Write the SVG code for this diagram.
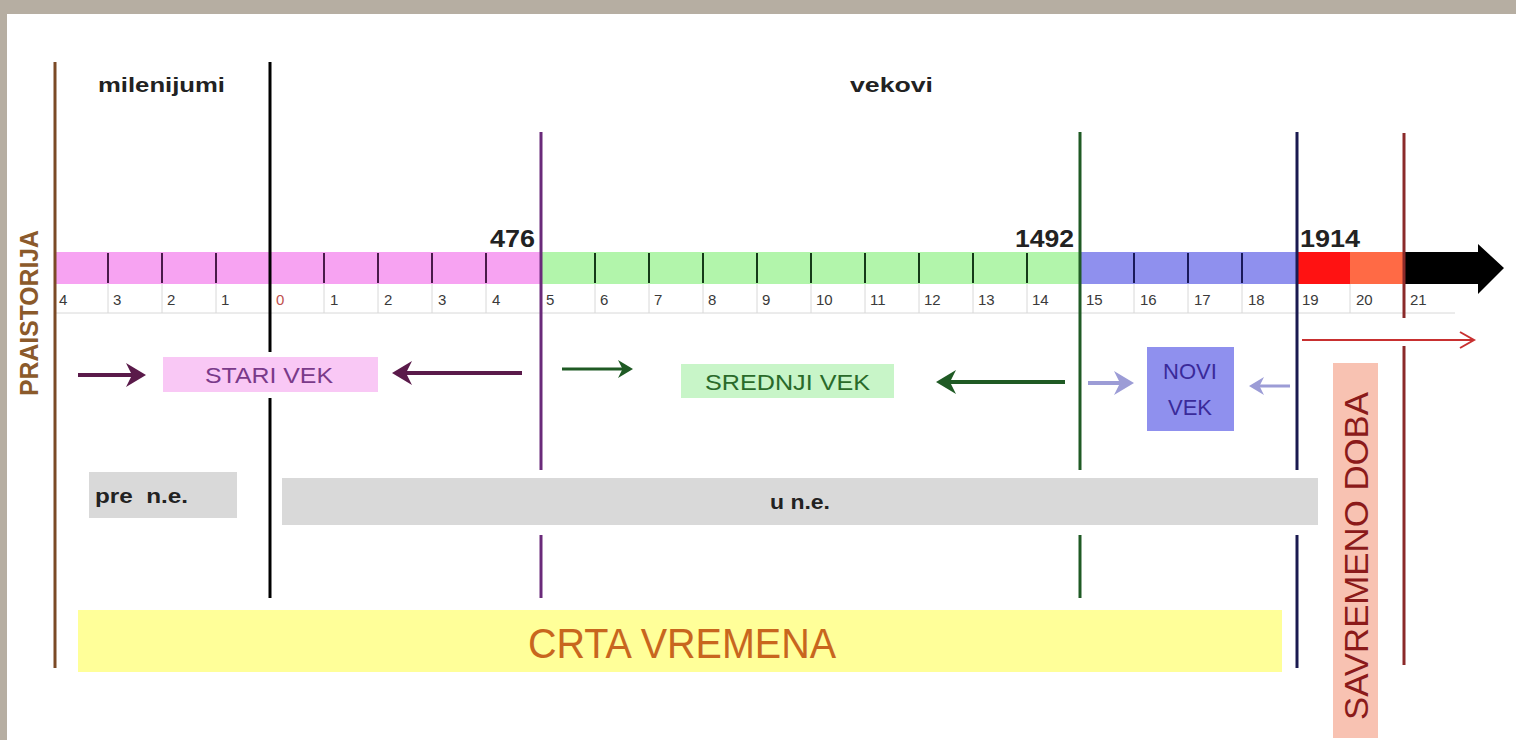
<svg xmlns="http://www.w3.org/2000/svg" width="1516" height="740" viewBox="0 0 1516 740">
<defs>
<style>
.num{font-family:"Liberation Sans",Arial,sans-serif;font-size:15px;fill:#3a3a3a}
.yr{font-family:"Liberation Sans",Arial,sans-serif;font-size:23px;font-weight:bold;fill:#222}
.hd{font-family:"Liberation Sans",Arial,sans-serif;font-size:21px;font-weight:bold;fill:#222}
.lbl{font-family:"Liberation Sans",Arial,sans-serif;font-size:22px}
.sep{stroke:#d8d8d8;stroke-width:1}
</style>
<marker id="ahP" markerWidth="6" markerHeight="6" refX="4" refY="3" orient="auto" markerUnits="strokeWidth"><path d="M0,0 L5,3 L0,6 L1.5,3 Z" fill="#5a1a4a"/></marker>
<marker id="ahG" markerWidth="6" markerHeight="6" refX="4" refY="3" orient="auto" markerUnits="strokeWidth"><path d="M0,0 L5,3 L0,6 L1.5,3 Z" fill="#1f5a24"/></marker>
<marker id="ahB" markerWidth="6" markerHeight="6" refX="4" refY="3" orient="auto" markerUnits="strokeWidth"><path d="M0,0 L5,3 L0,6 L1.5,3 Z" fill="#9c9cd6"/></marker>
</defs>
<rect width="1516" height="740" fill="#ffffff"/>
<rect x="0" y="0" width="1516" height="14" fill="#b6aea2"/>
<rect x="0" y="0" width="7" height="740" fill="#b6aea2"/>

<g id="headers">
<text class="hd" x="98" y="92" textLength="127" lengthAdjust="spacingAndGlyphs">milenijumi</text>
<text class="hd" x="850" y="92" textLength="83" lengthAdjust="spacingAndGlyphs">vekovi</text>
</g>

<g id="timeline-bar">
<rect x="55" y="252" width="486" height="32" fill="#f7a3f2"/>
<rect x="541" y="252" width="539" height="32" fill="#b2f5ab"/>
<rect x="1080" y="252" width="217" height="32" fill="#8f90ee"/>
<rect x="1297" y="252" width="53" height="32" fill="#ff1212"/>
<rect x="1350" y="252" width="54" height="32" fill="#ff6a45"/>
<path d="M1404,252 H1478 V244 L1504,268 L1478,294 V284 H1404 Z" fill="#000"/>
<g stroke="#4a1a4a" stroke-width="2">
<line x1="108" y1="253" x2="108" y2="283"/><line x1="162" y1="253" x2="162" y2="283"/><line x1="216" y1="253" x2="216" y2="283"/>
<line x1="324" y1="253" x2="324" y2="283"/><line x1="378" y1="253" x2="378" y2="283"/><line x1="432" y1="253" x2="432" y2="283"/><line x1="486" y1="253" x2="486" y2="283"/>
</g>
<g stroke="#153a18" stroke-width="2">
<line x1="595" y1="253" x2="595" y2="283"/><line x1="649" y1="253" x2="649" y2="283"/><line x1="703" y1="253" x2="703" y2="283"/><line x1="757" y1="253" x2="757" y2="283"/><line x1="811" y1="253" x2="811" y2="283"/><line x1="865" y1="253" x2="865" y2="283"/><line x1="919" y1="253" x2="919" y2="283"/><line x1="973" y1="253" x2="973" y2="283"/><line x1="1027" y1="253" x2="1027" y2="283"/>
</g>
<g stroke="#1a1a5a" stroke-width="2">
<line x1="1134" y1="253" x2="1134" y2="283"/><line x1="1188" y1="253" x2="1188" y2="283"/><line x1="1242" y1="253" x2="1242" y2="283"/>
</g>
<line x1="55" y1="313" x2="1455" y2="313" class="sep"/>
<g class="sep">
<line x1="108" y1="284" x2="108" y2="313"/><line x1="162" y1="284" x2="162" y2="313"/><line x1="216" y1="284" x2="216" y2="313"/><line x1="324" y1="284" x2="324" y2="313"/><line x1="378" y1="284" x2="378" y2="313"/><line x1="432" y1="284" x2="432" y2="313"/><line x1="486" y1="284" x2="486" y2="313"/>
<line x1="595" y1="284" x2="595" y2="313"/><line x1="649" y1="284" x2="649" y2="313"/><line x1="703" y1="284" x2="703" y2="313"/><line x1="757" y1="284" x2="757" y2="313"/><line x1="811" y1="284" x2="811" y2="313"/><line x1="865" y1="284" x2="865" y2="313"/><line x1="919" y1="284" x2="919" y2="313"/><line x1="973" y1="284" x2="973" y2="313"/><line x1="1027" y1="284" x2="1027" y2="313"/>
<line x1="1134" y1="284" x2="1134" y2="313"/><line x1="1188" y1="284" x2="1188" y2="313"/><line x1="1242" y1="284" x2="1242" y2="313"/><line x1="1350" y1="284" x2="1350" y2="313"/>
</g>
<text class="num" x="59" y="305">4</text>
<text class="num" x="113" y="305">3</text>
<text class="num" x="167" y="305">2</text>
<text class="num" x="221" y="305">1</text>
<text class="num" x="276" y="305" style="fill:#c0504d">0</text>
<text class="num" x="330" y="305">1</text>
<text class="num" x="384" y="305">2</text>
<text class="num" x="438" y="305">3</text>
<text class="num" x="492" y="305">4</text>
<text class="num" x="546" y="305">5</text>
<text class="num" x="600" y="305">6</text>
<text class="num" x="654" y="305">7</text>
<text class="num" x="708" y="305">8</text>
<text class="num" x="762" y="305">9</text>
<text class="num" x="816" y="305">10</text>
<text class="num" x="870" y="305">11</text>
<text class="num" x="924" y="305">12</text>
<text class="num" x="978" y="305">13</text>
<text class="num" x="1032" y="305">14</text>
<text class="num" x="1086" y="305">15</text>
<text class="num" x="1140" y="305">16</text>
<text class="num" x="1194" y="305">17</text>
<text class="num" x="1248" y="305">18</text>
<text class="num" x="1302" y="305">19</text>
<text class="num" x="1356" y="305">20</text>
<text class="num" x="1410" y="305">21</text>
<text class="yr" x="490" y="247" textLength="45" lengthAdjust="spacingAndGlyphs">476</text>
<text class="yr" x="1015" y="247" textLength="59" lengthAdjust="spacingAndGlyphs">1492</text>
<text class="yr" x="1300" y="247" textLength="60" lengthAdjust="spacingAndGlyphs">1914</text>
</g>

<g id="dividers" stroke-linecap="butt">
<line x1="55" y1="62" x2="55" y2="668" stroke="#7b4a26" stroke-width="3"/>
<line x1="270" y1="62" x2="270" y2="352" stroke="#000" stroke-width="3"/>
<line x1="270" y1="398" x2="270" y2="598" stroke="#000" stroke-width="3"/>
<line x1="541" y1="132" x2="541" y2="470" stroke="#6a2a7a" stroke-width="3"/>
<line x1="541" y1="535" x2="541" y2="598" stroke="#6a2a7a" stroke-width="3"/>
<line x1="1080" y1="132" x2="1080" y2="470" stroke="#1f5a24" stroke-width="3"/>
<line x1="1080" y1="535" x2="1080" y2="598" stroke="#1f5a24" stroke-width="3"/>
<line x1="1297" y1="132" x2="1297" y2="470" stroke="#1a1a50" stroke-width="3"/>
<line x1="1297" y1="535" x2="1297" y2="668" stroke="#1a1a50" stroke-width="3"/>
<line x1="1404" y1="133" x2="1404" y2="318" stroke="#8b2a2a" stroke-width="3"/>
<line x1="1404" y1="346" x2="1404" y2="665" stroke="#8b2a2a" stroke-width="3"/>
</g>

<g id="praistorija">
<text transform="translate(38,396) rotate(-90)" style="font-family:'Liberation Sans',Arial,sans-serif;font-size:25px;font-weight:bold;fill:#8b5a2b" textLength="166" lengthAdjust="spacingAndGlyphs">PRAISTORIJA</text>
</g>

<g id="stari-vek">
<rect x="163" y="357" width="215" height="35" fill="#f9c8f5"/>
<text class="lbl" x="205" y="383" fill="#7a3a8a" textLength="128" lengthAdjust="spacingAndGlyphs">STARI VEK</text>
</g>

<g id="srednji-vek">
<rect x="681" y="364" width="213" height="34" fill="#c8f5c8"/>
<text class="lbl" x="705" y="390" fill="#2a6a2a" textLength="165" lengthAdjust="spacingAndGlyphs">SREDNJI VEK</text>
</g>

<g id="novi-vek">
<rect x="1147" y="347" width="87" height="84" fill="#8f90ee"/>
<text class="lbl" x="1190" y="379" text-anchor="middle" fill="#3a2a9a" font-size="19">NOVI</text>
<text class="lbl" x="1190" y="415" text-anchor="middle" fill="#3a2a9a" font-size="19">VEK</text>
</g>

<g id="pre-ne">
<rect x="89" y="472" width="148" height="46" fill="#d9d9d9"/>
<text class="hd" x="95" y="503" font-size="21" xml:space="preserve" style="white-space:pre" textLength="93" lengthAdjust="spacingAndGlyphs">pre  n.e.</text>
</g>

<g id="u-ne">
<rect x="282" y="478" width="1036" height="47" fill="#d9d9d9"/>
<text class="hd" x="770" y="509" font-size="18" textLength="60" lengthAdjust="spacingAndGlyphs">u n.e.</text>
</g>

<g id="crta-vremena">
<rect x="78" y="610" width="1204" height="62" fill="#ffff99"/>
<text x="528" y="658" style="font-family:'Liberation Sans',Arial,sans-serif;font-size:43px;fill:#c8661e" textLength="308" lengthAdjust="spacingAndGlyphs">CRTA VREMENA</text>
</g>

<g id="savremeno-doba">
<rect x="1333" y="363" width="45" height="375" fill="#f8c2b2"/>
<text transform="translate(1368,720) rotate(-90)" style="font-family:'Liberation Sans',Arial,sans-serif;font-size:33px;fill:#8b1a1a" textLength="328" lengthAdjust="spacingAndGlyphs">SAVREMENO DOBA</text>
</g>

<g id="connectors" fill="none">
<line x1="78" y1="375" x2="142" y2="375" stroke="#5a1a4a" stroke-width="4" marker-end="url(#ahP)"/>
<line x1="522" y1="373" x2="396" y2="373" stroke="#5a1a4a" stroke-width="4" marker-end="url(#ahP)"/>
<line x1="562" y1="369" x2="630" y2="369" stroke="#1f5a24" stroke-width="3" marker-end="url(#ahG)"/>
<line x1="1065" y1="382" x2="940" y2="382" stroke="#1f5a24" stroke-width="4" marker-end="url(#ahG)"/>
<line x1="1088" y1="383" x2="1130" y2="383" stroke="#9c9cd6" stroke-width="4" marker-end="url(#ahB)"/>
<line x1="1290" y1="386" x2="1252" y2="386" stroke="#9c9cd6" stroke-width="3" marker-end="url(#ahB)"/>
<line x1="1302" y1="340" x2="1474" y2="340" stroke="#c83030" stroke-width="2"/>
<path d="M1460,332 L1474,340 L1460,348" stroke="#c83030" stroke-width="2"/>
</g>
</svg>
